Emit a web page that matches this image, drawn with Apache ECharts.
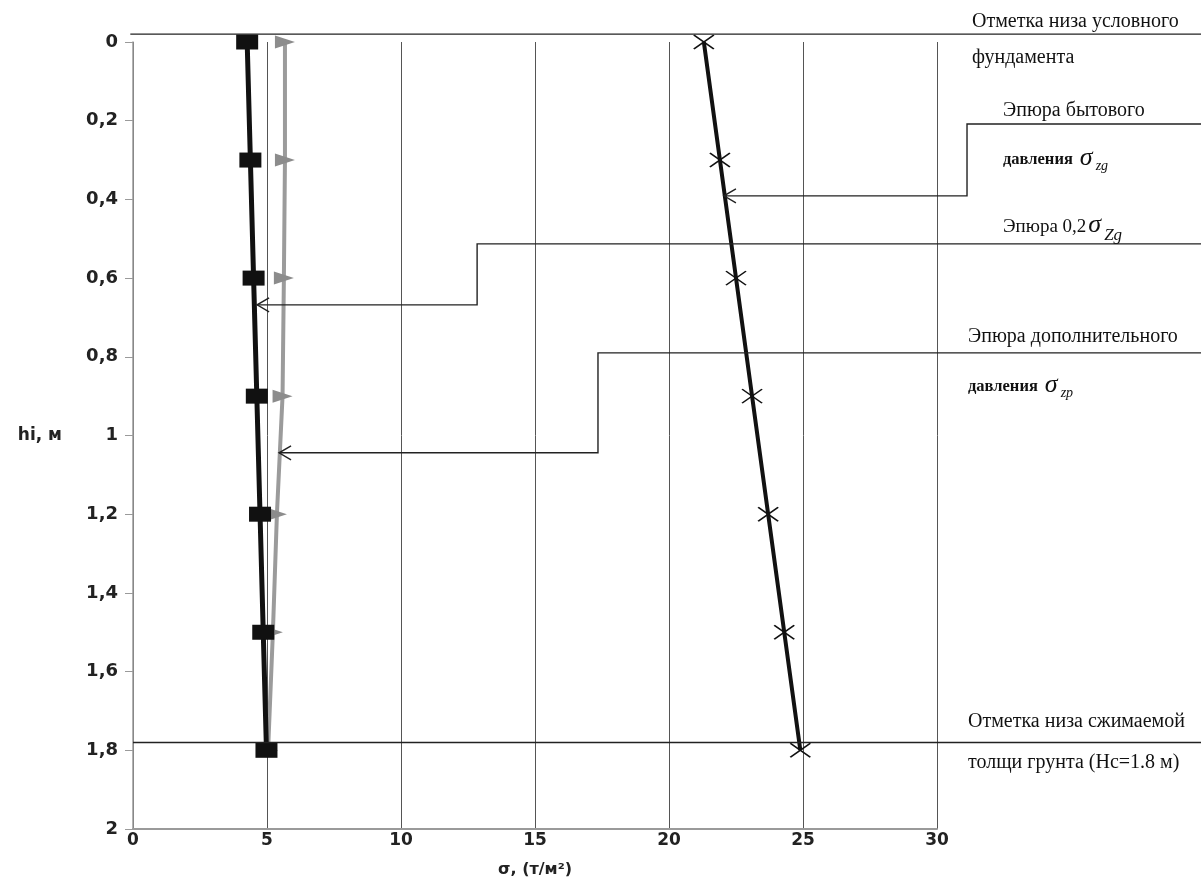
<!DOCTYPE html>
<html>
<head>
<meta charset="utf-8">
<script src="https://cdn.jsdelivr.net/npm/echarts@6/dist/echarts.min.js"></script>
<style>
html,body{margin:0;padding:0;background:#fff;}
#chart{width:1201px;height:888px;}
</style>
</head>
<body>
<div id="chart"></div>
<script>
// ---- data ----
const depths = [0, 0.3, 0.6, 0.9, 1.2, 1.5, 1.8];          // hi, м
const sigmaZg = [21.3, 21.9, 22.5, 23.1, 23.7, 24.3, 24.9]; // эпюра бытового давления
const sigmaZg02 = [4.26, 4.38, 4.5, 4.62, 4.74, 4.86, 4.98]; // эпюра 0,2 σzg
const sigmaZp = [5.67, 5.67, 5.63, 5.58, 5.37, 5.22, 5.04]; // эпюра дополнительного давления
const yTicks = ['0', '0,2', '0,4', '0,6', '0,8', '1', '1,2', '1,4', '1,6', '1,8', '2'];
const xTicks = ['0', '5', '10', '15', '20', '25', '30'];

const pairs = (xs) => xs.map((v, i) => [v, depths[i]]);

const chart = echarts.init(document.getElementById('chart'), null, {renderer: 'canvas'});

const crossPath = 'path://M0,0L20,14M20,0L0,14';
const sans = 'DejaVu Sans';

chart.setOption({
  animation: false,
  backgroundColor: '#ffffff',
  grid: {left: 133, right: 264, top: 42, bottom: 59, containLabel: false},
  xAxis: {
    type: 'value', min: 0, max: 30, interval: 5, position: 'bottom',
    name: 'σ, (т/м²)', nameLocation: 'middle', nameGap: 33,
    nameTextStyle: {fontFamily: sans, fontWeight: 'bold', fontSize: 16, color: '#222'},
    axisLine: {onZero: false, lineStyle: {color: '#9a9a9a', width: 2}},
    axisTick: {show: false},
    axisLabel: {
      margin: 3, fontFamily: sans, fontWeight: 'bold', fontSize: 17, color: '#222',
      formatter: (v) => xTicks[Math.round(v / 5)]
    },
    splitLine: {show: true, lineStyle: {color: '#555', width: 1}}
  },
  yAxis: {
    type: 'value', min: 0, max: 2, interval: 0.2, inverse: true,
    name: 'hi, м', nameLocation: 'middle', nameGap: 71, nameRotate: 0,
    nameTextStyle: {fontFamily: sans, fontWeight: 'bold', fontSize: 17, color: '#222'},
    axisLine: {show: true, onZero: false, lineStyle: {color: '#9a9a9a', width: 1.5}},
    axisTick: {show: true, inside: false, length: 8, lineStyle: {color: '#9a9a9a'}},
    axisLabel: {
      margin: 15, fontFamily: sans, fontWeight: 'bold', fontSize: 18, color: '#222',
      formatter: (v) => yTicks[Math.round(v / 0.2)]
    },
    splitLine: {show: false}
  },
  series: [
    {
      name: 'σzp', type: 'line', data: pairs(sigmaZp),
      symbol: 'triangle', symbolSize: [13, 20], symbolRotate: -90,
      lineStyle: {color: '#9b9b9b', width: 4},
      itemStyle: {color: '#8c8c8c'}, z: 2
    },
    {
      name: '0,2σzg', type: 'line', data: pairs(sigmaZg02),
      symbol: 'rect', symbolSize: [22, 15],
      lineStyle: {color: '#111', width: 5},
      itemStyle: {color: '#111'}, z: 3
    },
    {
      name: 'σzg', type: 'line', data: pairs(sigmaZg),
      symbol: crossPath, symbolSize: [20, 14], symbolKeepAspect: false,
      lineStyle: {color: '#111', width: 4},
      itemStyle: {color: 'rgba(0,0,0,0)', borderColor: '#111', borderWidth: 1.6}, z: 3
    }
  ]
});

// ---- annotations (callouts) ----
const W = 1201;
const px = (x, y) => chart.convertToPixel({gridIndex: 0}, [x, y]);
const els = [];
const line = (pts) => els.push({type: 'polyline', shape: {points: pts}, style: {stroke: '#222', lineWidth: 1.4, fill: null}, z: 10});
function leader(yStart, xStep, yEnd, xTip) {
  const a = px(xStep, yStart), b = px(xStep, yEnd), t = px(xTip, yEnd);
  line([[W, a[1]], [a[0], a[1]], [b[0], b[1]], [t[0], t[1]]]);
  line([[t[0] + 12, t[1] - 7], [t[0], t[1]], [t[0] + 12, t[1] + 7]]);
}
(() => {
  const a = px(-0.1, -0.02); line([[a[0], a[1]], [W, a[1]]]);
  const b = px(0, 1.78); line([[b[0], b[1]], [W, b[1]]]);
})();
leader(0.2084, 31.12, 0.391, 22.05);
leader(0.513, 12.84, 0.668, 4.63);
leader(0.790, 17.35, 1.044, 5.45);

const serif = 'Liberation Serif';
const ctx = document.createElement('canvas').getContext('2d');
function fontStr(p) {
  return (p.fontStyle || 'normal') + ' ' + (p.fontWeight || 'normal') + ' ' + p.fontSize + 'px "' + serif + '"';
}
// run of text fragments laid out left to right
function run(x, y, parts) {
  let cx = x;
  parts.forEach((p) => {
    const st = Object.assign({fontSize: 20, fontStyle: 'normal', fontWeight: 'normal', gap: 0, dy: 0}, p);
    cx += st.gap;
    els.push({type: 'text', x: cx, y: y + st.dy, z: 11, style: {
      text: st.text, fontFamily: serif, fontSize: st.fontSize, fontStyle: st.fontStyle,
      fontWeight: st.fontWeight, fill: '#111', textVerticalAlign: 'middle', textAlign: 'left'
    }});
    ctx.font = fontStr(st);
    cx += ctx.measureText(st.text).width;
  });
}
run(972, 22, [{text: 'Отметка низа условного'}]);
run(972, 58, [{text: 'фундамента'}]);
run(1003, 111, [{text: 'Эпюра бытового'}]);
run(1003, 160, [{text: 'давления', fontWeight: 'bold', fontSize: 16.5}, {text: 'σ', fontSize: 26, fontStyle: 'italic', gap: 7, dy: -2}, {text: 'zg', fontSize: 14, fontStyle: 'italic', gap: 3, dy: 6}]);
run(1003, 227, [{text: 'Эпюра 0,2', fontSize: 19}, {text: 'σ', fontSize: 26, fontStyle: 'italic', gap: 2, dy: -2}, {text: 'Zg', fontSize: 17, fontStyle: 'italic', gap: 3, dy: 9}]);
run(968, 337, [{text: 'Эпюра дополнительного'}]);
run(968, 387, [{text: 'давления', fontWeight: 'bold', fontSize: 16.5}, {text: 'σ', fontSize: 26, fontStyle: 'italic', gap: 7, dy: -2}, {text: 'zp', fontSize: 14, fontStyle: 'italic', gap: 3, dy: 6}]);
run(968, 722, [{text: 'Отметка низа сжимаемой'}]);
run(968, 763, [{text: 'толщи грунта (Нс=1.8 м)'}]);

chart.setOption({graphic: {elements: els}});
</script>
</body>
</html>
